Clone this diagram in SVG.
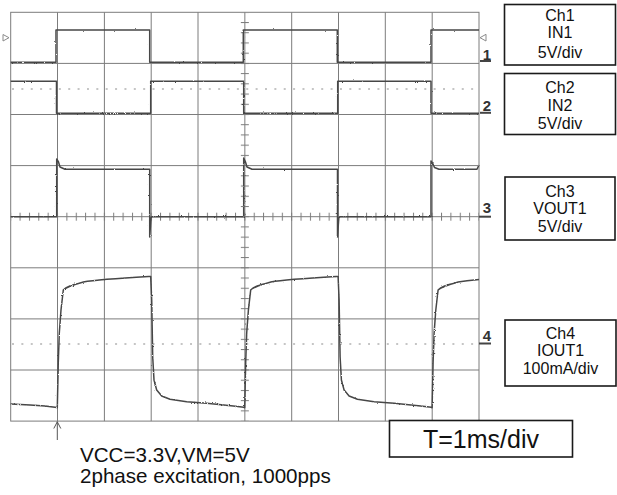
<svg xmlns="http://www.w3.org/2000/svg" width="617" height="495" viewBox="0 0 617 495">
<style>
.grid{stroke:#7c7c7c;stroke-width:1;fill:none}
.tr{stroke:#474747;stroke-width:1.5;fill:none;stroke-linejoin:round}
.dot{stroke:#8c8c8c;stroke-width:1.2;stroke-dasharray:2 7.37;fill:none}
.box{fill:#fff;stroke:#1a1a1a;stroke-width:1.6}
.lbl{font-family:"Liberation Sans",Arial,sans-serif;font-size:16px;fill:#111;text-anchor:middle}
.num{font-family:"Liberation Sans",Arial,sans-serif;font-size:15px;font-weight:bold;fill:#333;text-anchor:end}
.ul{stroke:#444;stroke-width:2}
.note{font-family:"Liberation Sans",Arial,sans-serif;font-size:20.6px;fill:#111}
.mk{fill:#fff;stroke:#8a8a8a;stroke-width:1}
</style>
<defs>
<pattern id="htick" patternUnits="userSpaceOnUse" x="10.2" y="212.7" width="9.366" height="8"><rect x="0" y="0" width="1" height="8" fill="#7c7c7c"/></pattern>
<pattern id="vtick" patternUnits="userSpaceOnUse" x="240.85" y="11.8" width="8" height="10.22"><rect x="0" y="0" width="8" height="1" fill="#7c7c7c"/></pattern>
<filter id="jit" x="-5%" y="-5%" width="110%" height="110%"><feTurbulence type="fractalNoise" baseFrequency="0.9" numOctaves="1" seed="3"/><feDisplacementMap in="SourceGraphic" scale="2.4" xChannelSelector="R" yChannelSelector="G"/></filter>
</defs>
<rect width="617" height="495" fill="#fff"/>
<g id="graticule">
<rect class="grid" x="10.7" y="12.3" width="468.3" height="408.8"/>
<path class="grid" d="M57.5,12.3V421.1M104.4,12.3V421.1M151.2,12.3V421.1M198,12.3V421.1M244.85,12.3V421.1M291.7,12.3V421.1M338.5,12.3V421.1M385.3,12.3V421.1M432.2,12.3V421.1"/>
<path class="grid" d="M10.7,63.4H479M10.7,114.5H479M10.7,165.6H479M10.7,216.7H479M10.7,267.8H479M10.7,318.9H479M10.7,370H479"/>
<rect x="11" y="212.7" width="468" height="8" fill="url(#htick)"/>
<rect x="240.85" y="13" width="8" height="407.5" fill="url(#vtick)"/>
<path class="dot" d="M12,89H479"/>
<path class="dot" d="M12,344H479"/>
</g>
<g id="traces" filter="url(#jit)">
<path id="ch1-trace" class="tr" d="M10.7,62.3H56V30H149.7V62.3H243.3V30H337.3V62.3H431V30H479"/>
<path id="ch2-trace" class="tr" d="M10.7,81.3H56.5V113.3H150.7V81.3H243.7V113.3H337.7V81.3H431V113.3H479"/>
<path id="ch3-trace" class="tr" d="M10.7,216.7H56.7V159L58.5,162L60,167L65,169.3H149.7V237L151,218L152,216.7H243.7V158L245.5,162L247,167L252,169.3H337.5V237L338.8,218L340,216.7H431V161L433,164L434.5,167.5L439,169.3H477L479,165"/>
<path id="ch4-trace" class="tr" d="M10.7,404L30,405L45,406L57,407.5L57.3,407.7L58.3,362L59.3,333L61,310L63.3,290C66.3,286.5 72.3,285 83.3,282C97.3,279.5 122.3,278 148.5,276.5L150.7,276.5L151.7,300L152.7,356.7L154,380L156.7,390L161.7,396L170,399.3L186.7,401.7L206.7,403.3L233.3,406L243.8,407.3L244.7,407.7L245.7,362L246.7,333L248.4,310L250.7,290C253.7,286.5 259.7,285 270.7,282C284.7,279.5 309.7,278 335.9,276.5L338.1,276.5L339.1,300L340.1,356.7L341.4,380L344.1,390L349.1,396L357.4,399.3L374.1,401.7L394.1,403.3L420.7,406L431.2,407.3L432.1,407.7L433.1,362L434.1,333L435.8,310L438.1,290C441.1,286.5 447.1,285 458.1,282C468,280.5 474,280 479,279.5"/>
</g>
<g id="markers">
<polygon class="mk" points="3,34.5 9,37.7 3,41"/>
<polygon class="mk" points="486,34.3 480,37.7 486,41"/>
<text class="num" x="491" y="59.5">1</text><path class="ul" d="M480,61H491"/>
<text class="num" x="491" y="110.5">2</text><path class="ul" d="M480,112.8H491"/>
<text class="num" x="491" y="213">3</text><path class="ul" d="M479,216.7H491"/>
<text class="num" x="491" y="341">4</text><path class="ul" d="M479,343.5H491"/>
</g>
<g id="connectors">
<path d="M57.3,421.5V440M53.8,428.5L57.3,421.8L60.8,428.5" stroke="#555" stroke-width="1" fill="none"/>
</g>
<g id="ch1-label"><rect class="box" x="504.5" y="4.5" width="111" height="60.5"/>
<text class="lbl" x="560" y="21">Ch1</text><text class="lbl" x="560" y="38">IN1</text><text class="lbl" x="560" y="57.5">5V/div</text></g>
<g id="ch2-label"><rect class="box" x="504.5" y="73.5" width="111" height="61"/>
<text class="lbl" x="560" y="93.3">Ch2</text><text class="lbl" x="560" y="111">IN2</text><text class="lbl" x="560" y="128.5">5V/div</text></g>
<g id="ch3-label"><rect class="box" x="505" y="177" width="110" height="63"/>
<text class="lbl" x="560" y="196.7">Ch3</text><text class="lbl" x="560" y="213.5">VOUT1</text><text class="lbl" x="560" y="232">5V/div</text></g>
<g id="ch4-label"><rect class="box" x="505" y="320" width="111" height="66"/>
<text class="lbl" x="560.5" y="338.5">Ch4</text><text class="lbl" x="560.5" y="356">IOUT1</text><text class="lbl" x="560.5" y="374">100mA/div</text></g>
<g id="timebase"><rect class="box" x="389.5" y="420.5" width="183" height="36.5"/>
<text class="lbl" x="481" y="447.5" style="font-size:25px">T=1ms/div</text></g>
<g id="conditions">
<text class="note" x="80" y="462">VCC=3.3V,VM=5V</text>
<text class="note" x="80" y="483">2phase excitation, 1000pps</text>
</g>
</svg>
